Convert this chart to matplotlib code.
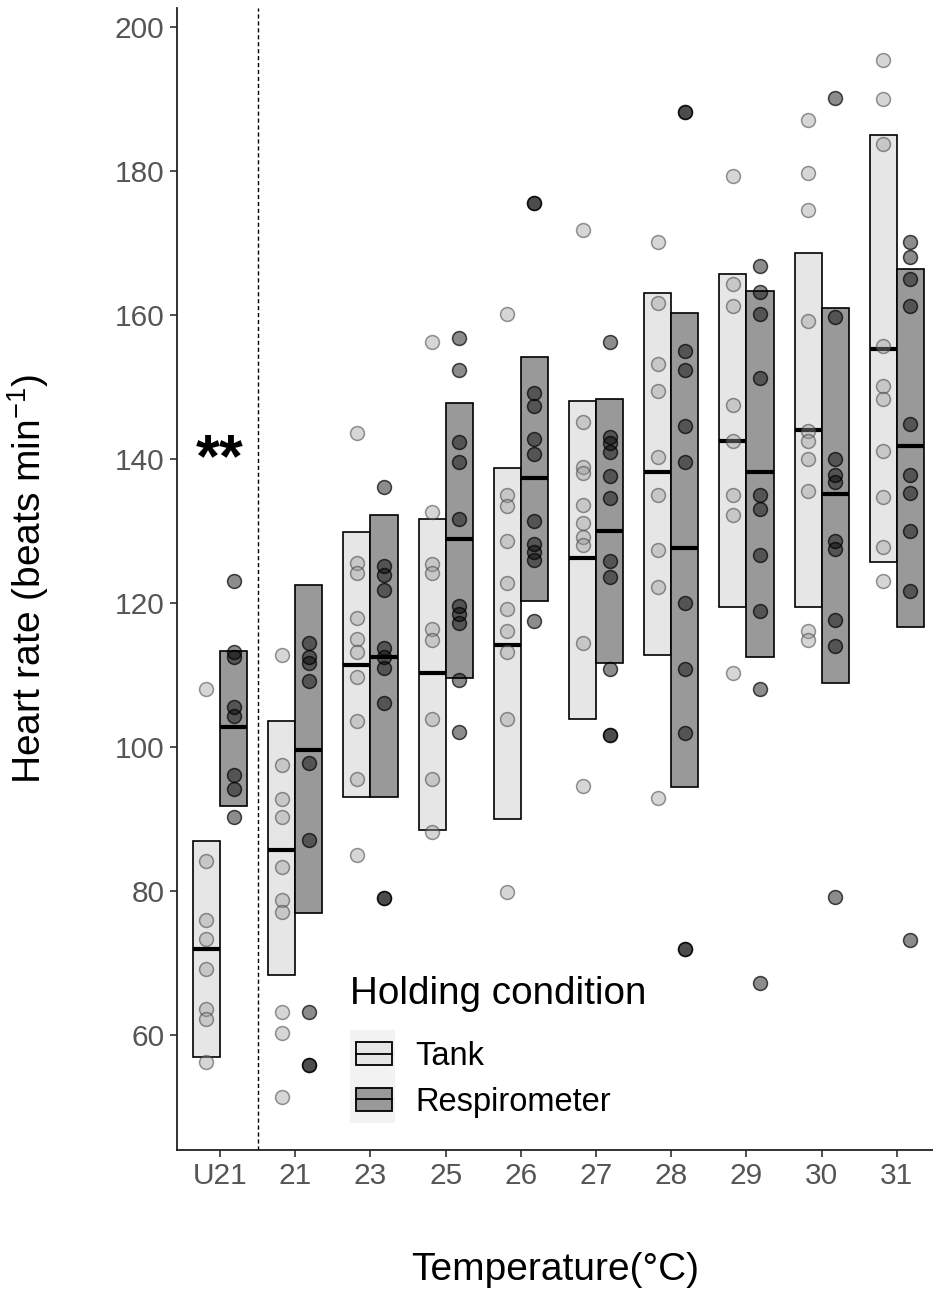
import matplotlib
matplotlib.use("Agg")
import matplotlib.pyplot as plt
from matplotlib.patches import Rectangle
from matplotlib.lines import Line2D
from matplotlib.legend_handler import HandlerBase

plt.rcParams['font.family'] = ['Liberation Sans', 'DejaVu Sans']

categories = ['U21', '21', '23', '25', '26', '27', '28', '29', '30', '31']

# crossbars: lower edge, middle line, upper edge
tank_low = [56.9, 68.3, 93.0, 88.5, 89.9, 103.9, 112.75, 119.4, 119.4, 125.6]
tank_mid = [71.9, 85.7, 111.3, 110.3, 114.1, 126.2, 138.1, 142.5, 144.0, 155.3]
tank_high = [86.9, 103.6, 129.8, 131.7, 138.7, 148.0, 163.0, 165.6, 168.6, 185.0]

resp_low = [91.8, 76.9, 93.0, 109.6, 120.2, 111.7, 94.4, 112.5, 108.9, 116.7]
resp_mid = [102.7, 99.6, 112.4, 128.9, 137.3, 130.0, 127.6, 138.15, 135.1, 141.8]
resp_high = [113.3, 122.4, 132.2, 147.8, 154.2, 148.3, 160.3, 163.3, 160.9, 166.4]

# individual fish
tank_points = [
    [108.0, 84.1, 76.0, 73.3, 69.2, 63.6, 62.2, 56.2],
    [112.8, 97.5, 92.7, 90.3, 83.3, 78.7, 77.0, 63.2, 60.3, 51.3],
    [143.6, 125.5, 124.1, 117.9, 115.0, 113.1, 109.7, 103.6, 95.5, 85.0],
    [156.2, 132.6, 125.4, 124.2, 116.4, 114.8, 103.9, 95.5, 88.2],
    [160.1, 134.9, 133.5, 128.6, 122.8, 119.1, 116.1, 113.2, 103.9, 79.8],
    [171.7, 145.1, 138.9, 138.0, 133.6, 131.1, 129.2, 128.0, 114.4, 94.6],
    [170.1, 161.6, 153.1, 149.4, 140.2, 134.9, 127.3, 122.2, 92.9],
    [179.3, 164.2, 161.2, 147.5, 142.5, 135.0, 132.2, 110.2],
    [187.1, 179.7, 174.6, 159.2, 143.8, 142.4, 139.9, 135.5, 116.1, 114.8],
    [195.4, 189.9, 183.7, 155.7, 150.1, 148.3, 141.1, 134.75, 127.8, 123.0],
]
resp_points = [
    [123.0, 113.2, 112.4, 105.5, 104.3, 96.1, 94.1, 90.2],
    [114.4, 112.5, 111.7, 109.2, 97.7, 87.1, 63.2, 55.8, 55.8],
    [136.1, 125.1, 123.9, 121.8, 113.7, 112.4, 110.9, 106.1, 79.0, 79.0],
    [156.8, 152.3, 142.3, 139.5, 131.7, 119.6, 118.4, 117.2, 109.3, 102.1],
    [175.5, 175.5, 149.2, 147.3, 142.8, 140.6, 131.4, 128.1, 127.0, 126.0, 117.4],
    [156.2, 143.0, 142.2, 140.9, 137.6, 134.5, 125.8, 123.6, 110.8, 101.6, 101.6],
    [188.2, 188.2, 154.9, 152.3, 144.5, 139.5, 119.9, 110.8, 101.9, 71.9, 71.9],
    [166.7, 163.2, 160.1, 151.2, 135.0, 133.0, 126.6, 118.8, 108.0, 67.2],
    [190.1, 159.75, 139.9, 137.8, 136.8, 128.6, 127.4, 117.6, 114.0, 79.1],
    [170.1, 168.0, 165.0, 161.2, 144.8, 137.8, 135.25, 130.0, 121.7, 73.2],
]

tank_fill = '#e6e6e6'
resp_fill = '#999999'
dodge = 0.18
bar_w = 0.36

fig = plt.figure(figsize=(9.33, 12.93), dpi=100)
ax = fig.add_axes([177 / 933, 143 / 1293, 1 - 177 / 933, (1150 - 8) / 1293])

for i in range(len(categories)):
    for off, lo, mid, hi, fc in [(-dodge, tank_low[i], tank_mid[i], tank_high[i], tank_fill),
                                 (dodge, resp_low[i], resp_mid[i], resp_high[i], resp_fill)]:
        ax.add_patch(Rectangle((i + off - bar_w / 2, lo), bar_w, hi - lo,
                               facecolor=fc, edgecolor='black', linewidth=1.2, zorder=2))
        ax.plot([i + off - bar_w / 2, i + off + bar_w / 2], [mid, mid],
                color='black', linewidth=3.0, solid_capstyle='butt', zorder=3)

for i in range(len(categories)):
    ax.scatter([i - dodge] * len(tank_points[i]), tank_points[i], s=100,
               facecolor=(0.6, 0.6, 0.6, 0.4), edgecolor=(0.25, 0.25, 0.25, 0.55),
               linewidth=1.1, zorder=4)
    ax.scatter([i + dodge] * len(resp_points[i]), resp_points[i], s=100,
               facecolor=(0, 0, 0, 0.45), edgecolor=(0, 0, 0, 0.7),
               linewidth=1.1, zorder=4)

ax.axvline(0.5, color='black', linestyle=(0, (3, 2)), linewidth=1.0, zorder=1)
ax.text(0, 139.8, '**', ha='center', va='center', fontsize=44, fontweight='bold')

ax.set_xlim(-0.572, 9.48)
ax.set_ylim(44.0, 202.6)
ax.set_xticks(range(len(categories)))
ax.set_xticklabels(categories)
ax.set_yticks([60, 80, 100, 120, 140, 160, 180, 200])

for s in ['top', 'right']:
    ax.spines[s].set_visible(False)
for s in ['left', 'bottom']:
    ax.spines[s].set_linewidth(1.3)
    ax.spines[s].set_color('#222222')
ax.tick_params(axis='both', length=5, width=1.2, color='#333333',
               labelcolor='#555555', labelsize=21.5, pad=4)

ax.set_xlabel('Temperature(°C)', fontsize=28, labelpad=44)
ax.set_ylabel('Heart rate (beats min$^{\\mathregular{-1}}$)', fontsize=28, labelpad=46)


class CrossbarKey(HandlerBase):
    def __init__(self, fc):
        super().__init__()
        self.fc = fc

    def create_artists(self, legend, orig_handle, xdescent, ydescent,
                       width, height, fontsize, trans):
        x0, y0 = -xdescent, -ydescent
        yc = y0 + height / 2
        bg = Rectangle((x0, yc - 17), width, 34,
                       facecolor='#f2f2f2', edgecolor='none', transform=trans)
        box = Rectangle((x0 + 0.13 * width, y0), 0.8 * width, height,
                        facecolor=self.fc, edgecolor='black', linewidth=1.3,
                        transform=trans)
        mid = Line2D([x0 + 0.13 * width, x0 + 0.93 * width], [yc, yc], color='black',
                     linewidth=1.3, transform=trans)
        return [bg, box, mid]


h_tank = Rectangle((0, 0), 1, 1)
h_resp = Rectangle((0, 0), 1, 1)
leg = ax.legend([h_tank, h_resp], ['Tank', 'Respirometer'],
                handler_map={h_tank: CrossbarKey(tank_fill), h_resp: CrossbarKey(resp_fill)},
                title='Holding condition', loc='upper left',
                bbox_to_anchor=(350 / 933, 1 - 976 / 1293), bbox_transform=fig.transFigure,
                frameon=False, fontsize=23.5, title_fontsize=27.8, borderpad=0,
                handlelength=1.38, handleheight=0.72, handletextpad=0.62,
                labelspacing=0.45, alignment='left', borderaxespad=0)
leg._legend_box.sep = 21

fig.savefig('out.png', dpi=100)
